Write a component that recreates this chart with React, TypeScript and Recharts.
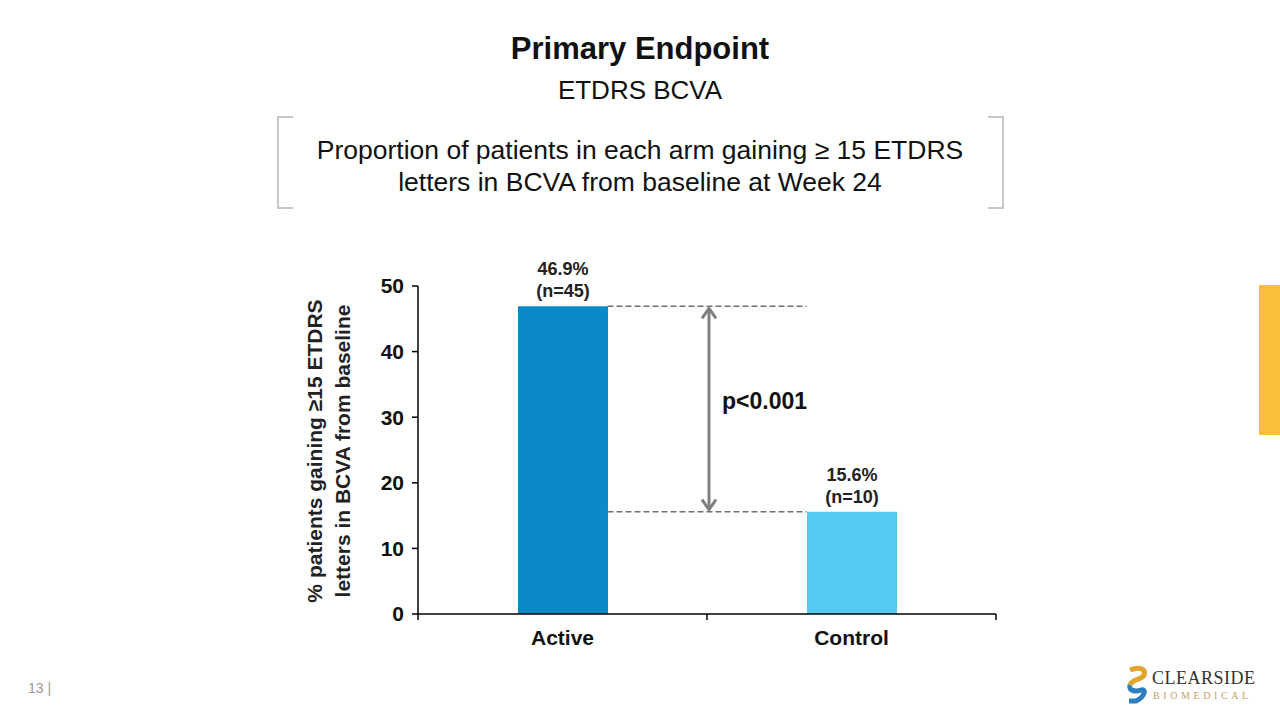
import { BarChart, Bar, XAxis, YAxis, Cell, LabelList, ReferenceLine } from 'recharts';

const categories = ['Active', 'Control'];
const percents = [46.9, 15.6];
const counts = [45, 10];
const barColors = ['#0B8AC9', '#55C9F2'];
const yTicks = [0, 10, 20, 30, 40, 50];
const pValue = 'p<0.001';
const BAR_SIZE = 90;

const data = categories.map((name, i) => ({ name, value: percents[i], n: counts[i] }));

const FONT = '"Liberation Sans", Arial, sans-serif';

function BarLabel(props: any) {
  const { x, y, width, index } = props;
  const cx = x + width / 2;
  return (
    <text x={cx} y={y - 31} textAnchor="middle" fontFamily={FONT} fontSize={18} fontWeight={700} fill="#222">
      <tspan x={cx} dy={0}>{percents[index].toFixed(1)}%</tspan>
      <tspan x={cx} dy={22}>(n={counts[index]})</tspan>
    </text>
  );
}

// x tick: label at band centre, tick marks at band edges
function XTick(props: any) {
  const { x, y, payload } = props;
  const half = payload.offset ?? 144;
  const top = y - 8;
  return (
    <g>
      <line x1={x + half} y1={top} x2={x + half} y2={top + 6} stroke="#000" strokeWidth={1.5} />
      {payload.index === 0 && <line x1={x - half} y1={top} x2={x - half} y2={top + 6} stroke="#000" strokeWidth={1.5} />}
      <text x={x} y={y + 23} textAnchor="middle" fontFamily={FONT} fontSize={21} fontWeight={700} fill="#111">
        {payload.value}
      </text>
    </g>
  );
}

// dashed guide between the two bars' facing edges
function GuideShape(props: any) {
  const { x1, y1, x2, y2 } = props;
  return (
    <line x1={x1 + BAR_SIZE / 2} y1={y1} x2={x2 - BAR_SIZE / 2} y2={y2} stroke="#707070" strokeWidth={1.5} strokeDasharray="6 3" />
  );
}

function ArrowShape(props: any) {
  const { x1, y1, x2, y2 } = props;
  const x = (x1 + x2) / 2 + 2;
  const top = Math.min(y1, y2) + 2;
  const bot = Math.max(y1, y2) - 2;
  const mid = (y1 + y2) / 2;
  const c = '#808080';
  return (
    <g>
      <line x1={x} y1={top} x2={x} y2={bot} stroke={c} strokeWidth={3} />
      <polyline points={`${x - 7},${top + 10} ${x},${top} ${x + 7},${top + 10}`} fill="none" stroke={c} strokeWidth={3} />
      <polyline points={`${x - 7},${bot - 10} ${x},${bot} ${x + 7},${bot - 10}`} fill="none" stroke={c} strokeWidth={3} />
      <text x={x + 13} y={mid + 0} fontFamily={FONT} fontSize={23} fontWeight={700} fill="#111">{pValue}</text>
    </g>
  );
}

function YTitle(props: any) {
  const { viewBox } = props;
  const cy = viewBox.y + viewBox.height / 2 + 1;
  const cx = viewBox.x - 36;
  return (
    <text transform={`translate(${cx},${cy}) rotate(-90)`} textAnchor="middle" fontFamily={FONT} fontSize={21} fontWeight={700} fill="#222">
      <tspan x={0} dy={0}>% patients gaining ≥15 ETDRS</tspan>
      <tspan x={0} dy={28}>letters in BCVA from baseline</tspan>
    </text>
  );
}

export default function App() {
  return (
    <div style={{ position: 'absolute', left: 0, top: 0, width: 1280, height: 720, background: '#fff', fontFamily: FONT }}>
      <div style={{ position: 'absolute', top: 31, width: 1280, textAlign: 'center', fontSize: 31, fontWeight: 700, color: '#111' }}>
        Primary Endpoint
      </div>
      <div style={{ position: 'absolute', top: 75, width: 1280, textAlign: 'center', fontSize: 26, color: '#111' }}>
        ETDRS BCVA
      </div>
      {/* bracket box */}
      <div style={{ position: 'absolute', left: 277, top: 116, width: 14, height: 89, borderLeft: '2px solid #c8c8c8', borderTop: '2px solid #c8c8c8', borderBottom: '2px solid #c8c8c8' }} />
      <div style={{ position: 'absolute', left: 988, top: 116, width: 14, height: 89, borderRight: '2px solid #c8c8c8', borderTop: '2px solid #c8c8c8', borderBottom: '2px solid #c8c8c8' }} />
      <div style={{ position: 'absolute', left: 290, top: 134, width: 700, textAlign: 'center', fontSize: 26.5, lineHeight: '32px', color: '#111' }}>
        Proportion of patients in each arm gaining ≥ 15 ETDRS<br />letters in BCVA from baseline at Week 24
      </div>

      <div style={{ position: 'absolute', left: 0, top: 0 }}>
        <BarChart width={1280} height={720} data={data} margin={{ top: 286, right: 284, bottom: 56, left: 358 }}>
          <XAxis
            dataKey="name"
            axisLine={{ stroke: '#000', strokeWidth: 1.5 }}
            tickLine={false}
            height={50}
            tick={<XTick />}
          />
          <YAxis
            domain={[0, 50]}
            ticks={yTicks}
            width={60}
            tickSize={6}
            tickMargin={8}
            axisLine={{ stroke: '#000', strokeWidth: 1.5 }}
            tickLine={{ stroke: '#000', strokeWidth: 1.5 }}
            tick={{ fill: '#111', fontSize: 21, fontWeight: 700, fontFamily: FONT }}
            label={{ content: YTitle }}
          />
          <Bar dataKey="value" barSize={BAR_SIZE} isAnimationActive={false}>
            {data.map((d, i) => (
              <Cell key={d.name} fill={barColors[i]} />
            ))}
            <LabelList dataKey="value" content={BarLabel} />
          </Bar>
          <ReferenceLine
            segment={[{ x: categories[0], y: percents[0] }, { x: categories[1], y: percents[0] }]}
            shape={GuideShape}
          />
          <ReferenceLine
            segment={[{ x: categories[0], y: percents[1] }, { x: categories[1], y: percents[1] }]}
            shape={GuideShape}
          />
          <ReferenceLine
            segment={[{ x: categories[0], y: percents[0] }, { x: categories[1], y: percents[1] }]}
            shape={ArrowShape}
          />
        </BarChart>
      </div>

      {/* right accent bar */}
      <div style={{ position: 'absolute', left: 1259, top: 285, width: 21, height: 150, background: '#FBBF3A' }} />

      {/* page number */}
      <div style={{ position: 'absolute', left: 28, top: 680, fontSize: 14, color: '#999' }}>13 |</div>

      {/* logo */}
      <svg style={{ position: 'absolute', left: 1124, top: 664 }} width={150} height={45}>
        <path d="M6 6 C16 2 22 5 20 11 C18 16 8 15 6 21" fill="none" stroke="#E3A32C" strokeWidth={5} />
        <path d="M6 21 C4 27 12 28 17 26 C22 24 22 32 12 37 L5 37" fill="none" stroke="#2E7FC1" strokeWidth={5} />
        <text x={28} y={20} fontFamily='"Liberation Serif", serif' fontSize={18} fill="#333" letterSpacing={0.5}>CLEARSIDE</text>
        <text x={29} y={35} fontFamily='"Liberation Serif", serif' fontSize={10} fill="#C9A267" letterSpacing={3.6}>BIOMEDICAL</text>
      </svg>
    </div>
  );
}
